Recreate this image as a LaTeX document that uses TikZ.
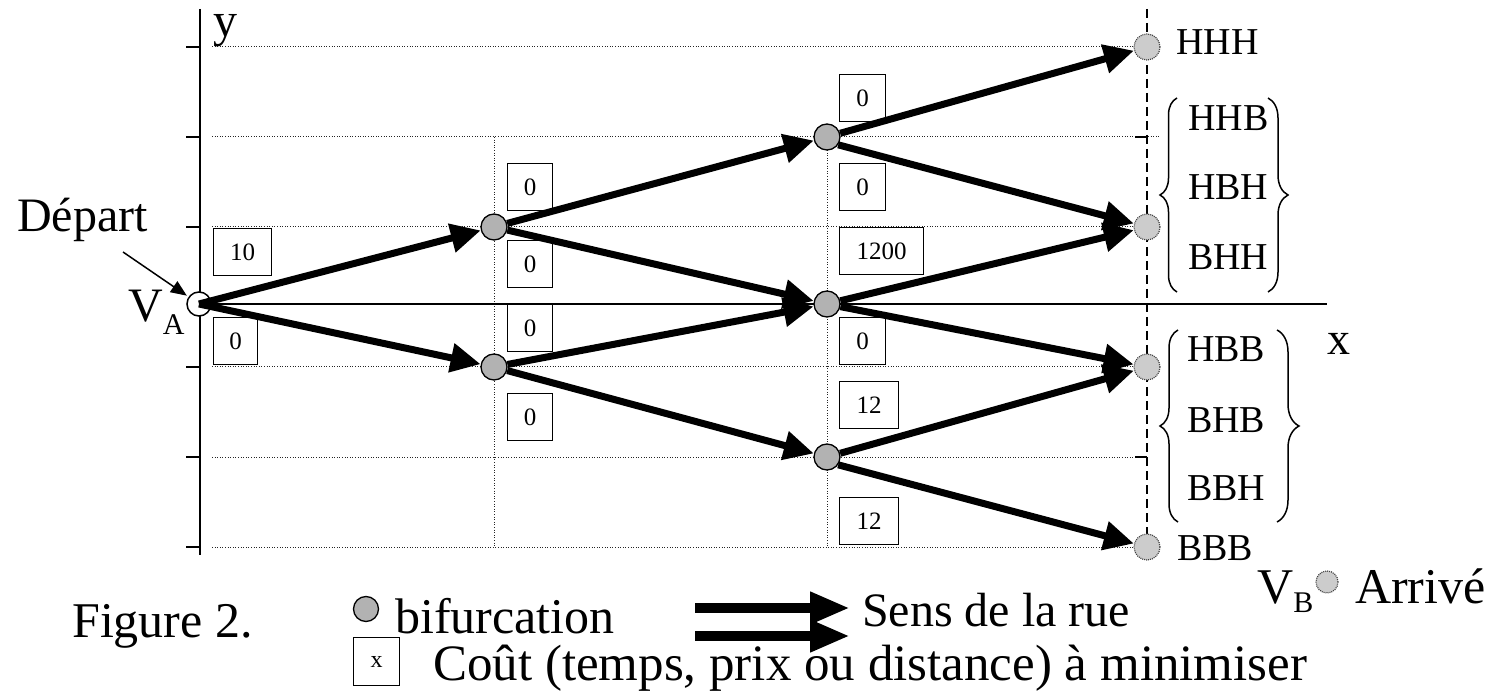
\documentclass[tikz,border=0pt]{standalone}
\usepackage{fontspec}
\setmainfont{Liberation Serif}
\usetikzlibrary{arrows.meta,decorations.pathreplacing}

\begin{document}
\begin{tikzpicture}[x=1pt,y=-1pt,
  gridline/.style={line width=1pt, dash pattern=on 1pt off 1.6pt, black!85},
  axisline/.style={line width=1.5pt},
  fork/.style={circle, draw, line width=1.3pt, fill=black!30, minimum size=26pt, inner sep=0pt},
  goal/.style={circle, draw=black!75, dash pattern=on 1pt off 1pt, line width=1.2pt, fill=black!20, minimum size=26pt, inner sep=0pt},
  street/.style={line width=7pt, -{Triangle[length=30pt,width=28pt]}},
  cost/.style={draw, line width=1.2pt, minimum height=47pt, font=\fontsize{25}{25}\selectfont, anchor=north west, inner sep=0pt},
  lbl/.style={inner sep=0pt, anchor=base west},
  bigfont/.style={font=\fontsize{48}{48}\selectfont},
  midfont/.style={font=\fontsize{38}{38}\selectfont},
  legfont/.style={font=\fontsize{50}{50}\selectfont},
  legarrow/.style={line width=10pt, -{Triangle[length=40pt,width=30pt]}},
  bracket/.style={decorate, line width=1.5pt}
]
\useasboundingbox (0,0) rectangle (1499,692);

% dotted grid
\foreach \yy in {47,227,367,457,547}
  \draw[gridline] (212,\yy) -- (1147,\yy);
\draw[gridline] (212,137) -- (1160,137);
\draw[gridline] (494,137) -- (494,547);
\draw[gridline] (827,137) -- (827,547);

% axes and ticks
\draw[axisline] (200,9) -- (200,555);
\draw[axisline] (200,304) -- (1327,304);
\foreach \yy in {47,137,227,367,457,547}
  \draw[axisline] (186,\yy) -- (200,\yy);
\foreach \yy in {137,457}
  \draw[axisline] (1135,\yy) -- (1147,\yy);
\draw[line width=1.5pt, dash pattern=on 9pt off 5pt] (1147,9) -- (1147,555);

% axis labels
\node[lbl, bigfont] (ylab) at (213,37) {y};
\node[lbl, font=\fontsize{46}{46}\selectfont] (xlab) at (1327,355) {x};

% crossings and end points
\node[circle, draw, line width=1.5pt, fill=white, minimum size=24pt, inner sep=0pt] (VA) at (199,304) {};
\node[fork] (b1) at (494,227) {};
\node[fork] (b2) at (494,367) {};
\node[fork] (c1) at (827,137) {};
\node[fork] (c2) at (827,304) {};
\node[fork] (c3) at (827,457) {};
\node[goal] (e1) at (1147,47) {};
\node[goal] (e2) at (1147,227) {};
\node[goal] (e3) at (1147,367) {};
\node[goal] (e4) at (1147,547) {};

% one-way streets
\draw[street] (VA.center) -- (b1);
\draw[street] (VA.center) -- (b2);
\draw[street] (b1) -- (c1);
\draw[street] (b1) -- (c2);
\draw[street] (b2) -- (c2);
\draw[street] (b2) -- (c3);
\draw[street] (c1) -- (e1);
\draw[street] (c1.-35) -- (e2);
\draw[street] (c2) -- (e2);
\draw[street] (c2) -- (e3);
\draw[street] (c3) -- (e3);
\draw[street] (c3.-35) -- (e4);

% costs
\node[cost, minimum width=58pt] (k1) at (213,228) {10};
\node[cost, minimum width=44pt] (k2) at (213,317) {0};
\node[cost, minimum width=45pt] (k3) at (507,163) {0};
\node[cost, minimum width=45pt] (k4) at (507,240) {0};
\node[cost, minimum width=45pt] (k5) at (507,304) {0};
\node[cost, minimum width=45pt] (k6) at (507,393) {0};
\node[cost, minimum width=46pt] (k7) at (839,74) {0};
\node[cost, minimum width=46pt] (k8) at (839,163) {0};
\node[cost, minimum width=84pt] (k9) at (839,227) {1200};
\node[cost, minimum width=46pt] (k10) at (839,317) {0};
\node[cost, minimum width=59pt] (k11) at (839,381) {12};
\node[cost, minimum width=59pt] (k12) at (839,497) {12};

% start
\node[lbl, bigfont] (dep) at (17,232) {Départ};
\coordinate (depfoot) at (123,252);
\draw[line width=1.5pt, -{Triangle[length=16pt,width=13pt]}, shorten >=2pt] (depfoot) -- (VA);
\node[lbl, bigfont] (valab) at (128,322) {V{\fontsize{30}{30}\selectfont\raisebox{-13pt}{A}}};

% outcomes
\node[lbl, midfont] (hhh) at (1176,55) {HHH};
\node[lbl, midfont] (hhb) at (1188,131) {HHB};
\node[lbl, midfont] (hbh) at (1188,200) {HBH};
\node[lbl, midfont] (bhh) at (1188,270) {BHH};
\node[lbl, midfont] (hbb) at (1187,362) {HBB};
\node[lbl, midfont] (bhb) at (1187,432) {BHB};
\node[lbl, midfont] (bbh) at (1187,500) {BBH};
\node[lbl, midfont] (bbb) at (1177,560) {BBB};

\draw[bracket, decoration={brace, amplitude=17pt}] (1177,292) -- (1177,98);
\draw[bracket, decoration={brace, amplitude=20pt}] (1268,98) -- (1268,292);
\draw[bracket, decoration={brace, amplitude=18pt}] (1178,522) -- (1178,330);
\draw[bracket, decoration={brace, amplitude=22pt}] (1277,330) -- (1277,522);

% legend
\node[lbl, legfont] (fig) at (72,637) {Figure 2.};
\node[fork, minimum size=25pt] (legfork) at (366,609) {};
\node[lbl, legfont] (legforktxt) at (395,633) {bifurcation};
\coordinate (s1a) at (695,608);
\coordinate (s1b) at (850,608);
\coordinate (s2a) at (695,636);
\coordinate (s2b) at (850,636);
\draw[legarrow] (s1a) -- (s1b);
\draw[legarrow] (s2a) -- (s2b);
\node[lbl, font=\fontsize{48}{48}\selectfont] (sens) at (862,626) {Sens de la rue};
\node[draw, line width=1.2pt, minimum width=46pt, minimum height=48pt, inner sep=0pt, anchor=north west, font=\fontsize{24}{24}\selectfont] (legbox) at (353,637) {x};
\node[lbl, font=\fontsize{51}{51}\selectfont] (cout) at (433,680) {Coût (temps, prix ou distance) à minimiser};
\node[lbl, legfont] (vblab) at (1257,603) {V{\fontsize{30}{30}\selectfont\raisebox{-9pt}{B}}};
\node[goal, minimum size=22pt] (leggoal) at (1327,582) {};
\node[lbl, legfont] (arr) at (1355,603) {Arrivé};
\end{tikzpicture}
\end{document}
